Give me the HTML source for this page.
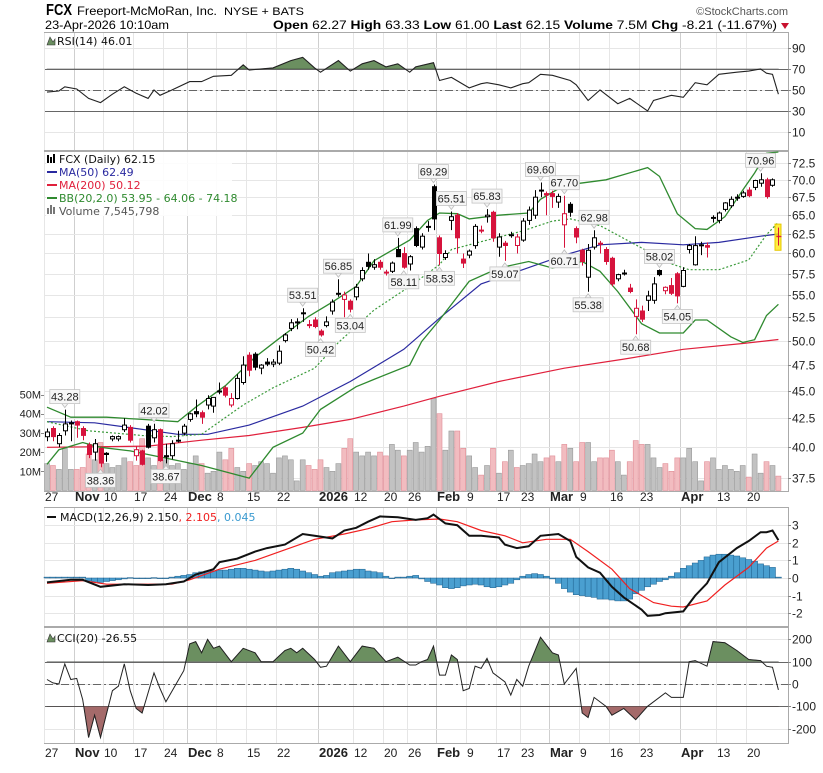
<!DOCTYPE html>
<html><head><meta charset="utf-8"><title>FCX StockCharts</title>
<style>
html,body{margin:0;padding:0;background:#fff;}
svg{display:block;font-family:"Liberation Sans",Arial,sans-serif;}
</style></head>
<body>
<svg id="chart" width="823" height="773" viewBox="0 0 823 773" xmlns="http://www.w3.org/2000/svg">
  <text x="46" y="15" font-size="16" font-weight="bold" textLength="26" lengthAdjust="spacingAndGlyphs">FCX</text>
  <text x="77" y="15" font-size="12" textLength="140" lengthAdjust="spacingAndGlyphs">Freeport-McMoRan, Inc.</text>
  <text x="224" y="15" font-size="11" textLength="80" lengthAdjust="spacingAndGlyphs">NYSE + BATS</text>
  <text x="788" y="15" font-size="11" fill="#555" text-anchor="end">©StockCharts.com</text>
  <text x="45" y="29" font-size="12" textLength="124" lengthAdjust="spacingAndGlyphs">23-Apr-2026 10:10am</text>
  <text x="273" y="29" font-size="12" textLength="504" lengthAdjust="spacingAndGlyphs"><tspan font-weight="bold">Open</tspan> 62.27 <tspan font-weight="bold">High</tspan> 63.33 <tspan font-weight="bold">Low</tspan> 61.00 <tspan font-weight="bold">Last</tspan> 62.15 <tspan font-weight="bold">Volume</tspan> 7.5M <tspan font-weight="bold">Chg</tspan> -8.21 (-11.67%)</text>
  <polygon points="781,23 789,23 785,29" fill="#c8102e"/>
  <g id="layer"></g>
</svg>
<script>
// ---------- DATA ----------
const opens = [40.9,41.6,40.3,41.4,42.1,42.2,41.6,40.2,39.6,39.9,39.5,40.7,40.7,41.5,41.7,39.3,39.7,41.8,40.8,41.5,39.3,39.3,40.6,41.2,
42.4,43.1,43.0,43.7,43.6,45.0,45.3,43.7,44.3,45.8,48.5,48.6,47.2,47.8,47.6,47.7,50.0,51.3,52.0,53.0,51.7,52.2,
51.0,51.6,53.2,55.2,54.5,54.3,54.8,56.9,58.9,58.3,58.9,57.7,57.8,60.5,60.0,58.7,63.2,
60.8,63.5,69.0,62.0,59.5,64.3,65.0,59.3,59.8,61.0,63.0,64.8,65.4,60.8,61.3,62.4,61.0,61.7,64.3,65.0,68.5,68.0,68.0,66.8,63.7,66.5,63.2,60.4,57.1,60.8,61.3,60.5,59.4,56.9,57.6,55.8,52.6,53.2,54.4,54.4,57.9,55.5,56.1,57.5,56.0,60.5,58.6,61.1,61.0,64.7,64.3,65.8,66.3,67.5,67.6,68.5,68.9,69.5,70.0,69.2,62.27];
const highs = [41.6,41.8,41.2,43.28,42.3,42.3,41.8,40.4,40.7,40.0,39.6,41.0,41.0,42.5,41.9,40.1,39.8,42.0,42.02,41.6,40.3,40.6,41.4,42.0,
43.0,44.2,43.2,44.6,44.4,45.8,45.5,44.8,46.6,48.4,48.8,48.8,47.6,48.2,48.1,49.5,50.8,52.3,52.4,53.51,52.2,52.5,
51.2,52.6,54.5,56.85,55.4,54.5,56.3,58.3,60.0,59.3,59.2,58.0,59.0,61.99,60.8,59.8,63.5,
62.6,64.2,69.29,62.3,60.4,65.51,65.3,60.0,60.5,63.8,63.6,65.83,65.6,62.6,61.6,62.8,62.5,64.6,66.2,68.5,69.60,68.3,68.4,68.0,67.70,66.8,63.5,60.6,61.2,62.98,61.6,60.8,59.6,57.5,58.0,56.3,54.5,53.8,55.5,57.1,58.02,56.0,57.0,57.7,58.3,61.2,62.2,61.5,61.4,65.0,65.5,66.8,67.6,67.9,68.4,68.9,70.0,70.96,70.3,70.2,63.33];
const lows = [40.5,40.5,40.0,41.0,40.5,40.8,40.6,39.1,38.9,38.36,38.8,40.5,40.5,41.3,40.4,38.9,38.5,39.9,40.4,38.8,38.67,39.0,40.4,41.0,
42.2,42.6,42.0,43.3,43.0,44.7,44.4,43.5,44.2,45.6,46.4,47.0,46.6,47.4,47.3,47.5,49.8,51.0,51.2,52.0,51.3,51.3,
50.42,51.4,52.8,54.8,52.5,53.04,54.4,56.6,58.0,58.0,58.0,57.3,57.6,60.2,58.11,57.9,60.8,
60.5,62.8,63.0,58.53,59.2,63.0,60.0,58.2,59.4,60.6,62.6,64.0,61.5,59.6,59.07,62.0,60.0,61.5,63.7,64.5,67.5,65.0,66.0,66.0,60.71,64.8,61.3,58.5,55.38,60.5,60.0,58.6,56.0,56.6,57.3,55.2,50.68,52.0,53.2,54.0,57.2,55.1,55.0,54.05,55.9,60.0,58.5,59.8,59.5,64.0,63.9,65.5,66.0,67.0,67.4,67.5,68.5,69.0,67.3,69.0,61.00];
const closes = [41.3,40.9,41.0,42.0,42.0,41.9,41.0,39.4,40.3,38.7,39.4,40.9,40.9,41.9,40.6,39.8,38.6,40.0,41.5,38.9,39.2,40.3,40.6,41.8,
42.9,42.9,42.6,44.3,44.4,45.0,44.6,44.3,46.2,47.5,47.0,47.3,47.5,47.6,47.8,48.9,50.6,51.9,52.0,53.0,51.7,51.5,
50.6,52.0,54.2,55.2,55.0,53.4,55.9,57.9,58.4,58.6,58.3,57.7,58.8,59.6,58.3,59.6,61.0,
62.2,63.5,64.5,60.0,60.0,64.8,62.0,58.8,60.3,63.5,63.0,65.0,62.0,62.1,61.0,62.4,62.1,64.2,65.7,67.5,68.4,67.8,67.6,67.6,65.2,65.4,62.1,59.0,60.4,62.0,61.2,59.0,56.3,57.4,57.6,55.4,53.5,52.3,54.9,56.3,57.4,55.9,55.2,54.9,57.9,61.0,61.0,61.0,60.8,64.7,65.3,66.7,67.2,67.5,68.1,67.7,69.9,70.0,67.6,70.0,62.15];
const volumesM = [14,13,11,22,11,11,12,19,16,25,14,12,13,17,15,13,27,17,13,23,16,13,14,11,
14,18,14,9,10,20,16,22,12,10,14,13,15,14,9,17,18,16,5,16,13,11,
16,12,10,14,22,27,20,18,20,18,20,18,24,21,18,21,25,
20,23,48,40,21,31,31,22,18,12,8,13,22,9,15,21,12,13,14,19,15,17,18,15,24,22,15,25,25,15,17,17,21,15,8,15,26,24,24,17,12,14,10,17,17,22,15,5,15,17,11,13,11,10,13,7,19,9,15,13,7.5];

const ma50Idx = [0,8,22,27,34,43,51,60,66,73,80,87,93,100,107,113,120,123];
const ma50Val = [42.2,42.1,41.1,41.1,41.9,43.6,45.9,49.1,52.4,56.3,58.0,59.8,61.1,61.4,61.1,61.4,62.2,62.49];
const ma200Idx = [0,17,26,34,43,51,60,66,76,87,97,107,117,123];
const ma200Val = [40.0,40.1,40.6,41.0,41.7,42.4,43.6,44.5,45.9,47.2,48.1,49.1,49.7,50.12];
const bbUpIdx = [0,4,10,16,22,25,30,35,39,44,48,52,55,61,64,66,69,71,76,81,83,87,94,101,103,106,109,111,114,117,119,121,123];
const bbUpVal = [43.5,42.6,42.6,42.4,42.2,43.5,45.5,48.3,50.2,52.6,54.2,56.0,59.1,61.7,64.3,65.3,65.2,64.5,65.0,65.3,67.2,69.2,70.0,71.8,70.5,65.2,63.2,63.1,64.8,68.5,71.0,74.0,74.18];
const bbMidIdx = [0,7,16,21,26,33,38,45,49,55,61,66,68,74,80,85,88,93,99,105,108,113,118,121,123];
const bbMidVal = [42.2,41.4,41.0,40.9,41.1,43.7,45.3,47.2,49.8,53.3,56.0,58.6,60.5,61.7,62.9,64.2,64.5,63.6,61.1,58.7,58.0,58.0,59.2,62.4,64.06];
const bbLoIdx = [0,2,6,9,14,21,26,34,38,43,46,52,55,61,63,66,71,76,81,85,90,93,96,100,103,107,109,111,115,117,119,121,123];
const bbLoVal = [38.6,39.8,40.4,40.0,39.7,39.0,38.5,37.5,40.0,41.2,43.3,45.4,46.1,47.5,49.9,52.2,56.6,58.2,59.0,58.2,59.0,57.8,55.4,51.8,50.8,50.8,52.2,52.2,50.4,49.8,50.1,52.7,53.95];

const rsiIdx = [0,2,3,5,7,9,11,13,15,17,18,19,21,24,26,28,31,33,34,38,41,43,45,46,49,51,53,55,57,59,61,62,65,66,68,71,73,74,76,78,80,81,83,85,88,89,91,93,96,98,101,102,105,107,109,111,113,116,118,120,121,122,123];
const rsiVal = [48,49,53,51,42,38,46,53,47,42,50,45,50,58,58,63,64,74,69,71,78,81,71,67,78,68,75,78,72,75,67,72,76,59,62,52,56,57,55,52,56,57,65,64,59,55,40,50,37,42,30,40,45,43,57,55,65,67,68,70,66,65,46.01];

const macdIdx = [0,4,6,9,13,17,20,23,25,28,29,32,35,37,40,43,45,48,50,52,54,56,59,62,64,65,67,69,71,73,76,77,79,81,83,86,88,89,91,93,95,97,100,101,103,104,107,109,111,113,116,118,120,121,122,123];
const macdVal = [-0.25,-0.1,-0.1,-0.5,-0.35,-0.4,-0.35,-0.2,0.2,0.5,0.9,1.1,1.5,1.7,1.9,2.5,2.4,2.25,2.7,2.85,3.2,3.5,3.45,3.3,3.4,3.6,3.1,3.0,2.4,2.4,2.3,1.9,1.7,1.8,2.4,2.5,2.1,1.2,0.6,0.3,-0.5,-1.1,-1.8,-2.15,-2.1,-2.0,-1.9,-1.0,-0.3,0.9,1.7,2.1,2.6,2.6,2.7,2.15];
const signalIdx = [0,6,10,14,21,24,29,35,40,45,50,54,58,62,66,69,73,77,80,84,88,91,95,98,102,105,107,111,114,118,121,123];
const signalVal = [-0.3,-0.15,-0.35,-0.35,-0.35,-0.1,0.5,1.0,1.6,2.2,2.5,2.8,3.2,3.3,3.35,3.2,2.7,2.4,2.0,2.2,2.2,1.5,0.5,-0.6,-1.4,-1.6,-1.65,-1.3,-0.4,0.6,1.7,2.1];
const histVal = [0.05,0.05,0.05,0.05,0.05,0.05,0.05,
-0.15,-0.2,-0.25,-0.2,-0.15,-0.1,-0.05,
0.02,0.0,-0.03,0.0,0.02,-0.02,0.0,0.05,0.1,
0.15,0.2,0.3,0.35,0.4,0.4,0.45,0.45,
0.5,0.55,0.55,0.5,0.45,0.4,0.35,
0.4,0.45,0.5,0.55,0.5,0.4,0.3,
0.2,0.1,0.15,0.3,0.35,
0.4,0.45,0.5,0.5,0.4,0.35,0.3,
0.1,0.0,0.05,0.05,0.1,0.15,
-0.05,-0.2,-0.3,-0.4,-0.55,
-0.6,-0.55,-0.45,-0.4,-0.35,-0.4,
-0.5,-0.55,-0.5,-0.4,-0.3,-0.1,
0.1,0.2,0.25,0.2,0.1,-0.05,
-0.3,-0.6,-0.8,-0.95,-1.0,-1.05,
-1.1,-1.2,-1.2,-1.25,-1.3,-1.3,-1.2,
-0.9,-0.7,-0.5,-0.35,-0.2,-0.1,
0.1,0.3,0.55,0.7,0.85,1.0,
1.2,1.3,1.35,1.35,1.3,1.25,1.15,
1.05,0.95,0.8,0.7,0.6,0.05];

const cciIdx = [0,1,2,3,4,5,6,7,8,9,11,12,13,14,15,16,18,19,20,23,24,25,26,27,28,29,31,33,35,36,38,40,41,42,43,45,46,47,49,51,53,55,57,59,61,62,63,64,65,66,67,68,69,70,71,72,73,74,75,77,78,79,80,81,83,85,86,87,89,90,91,92,94,95,97,99,101,104,105,107,108,109,111,112,114,116,118,120,121,122,123];
const cciVal = [20,5,0,90,20,25,-70,-240,-140,-240,-30,-10,90,-30,-110,-130,50,-20,-80,60,180,190,140,200,160,170,100,160,140,100,100,150,160,140,160,110,75,80,170,100,170,160,100,120,85,85,100,110,170,40,40,130,110,-30,-20,80,70,115,50,10,-50,20,-10,80,210,140,130,0,70,-130,-150,-60,-100,-140,-110,-160,-100,-40,-60,-60,100,105,80,190,185,150,110,105,80,75,-26.55];

const priceTicks = [37.5,40.0,42.5,45.0,47.5,50.0,52.5,55.0,57.5,60.0,62.5,65.0,67.5,70.0,72.5];
const volTicks = [10,20,30,40,50];
const rsiTicks = [90,70,50,30,10];
const macdTicks = [3,2,1,0,-1,-2];
const cciTicks = [200,100,0,-100,-200];
const weekIdx = [0,5,10,15,20,24,29,34,39,46,52,57,61,66,71,76,80,85,90,95,100,107,113,118];
const weekLabels = ["27","Nov","10","17","24","Dec","8","15","22","2026","12","20","26","Feb","9","17","23","Mar","9","16","23","Apr","13","20"];
const annIdx = [3,9,18,20,43,46,49,51,59,60,65,66,68,74,77,83,87,87,92,91,99,103,106,120];
const annSide = ["h","l","h","l","h","l","h","l","h","l","h","l","h","h","l","h","h","l","h","l","l","h","l","h"];

// ---------- SCALES ----------
const N = closes.length;
const X0 = 47, X1 = 778.4, PL = 44, PR = 788;
function xs(i){ return X0 + i*(X1-X0)/(N-1); }
function yp(p){ return 163 + (Math.log(72.5)-Math.log(p))*478; }
function yv(v){ return 490.5 - v*1.92; }
function yr(v){ return 111 - (v-30)*1.05; }
function ym(v){ return 578 - v*17.6; }
function yc(v){ return 684 - v*0.223; }

const NS = "http://www.w3.org/2000/svg";
const root = document.getElementById('layer');
function mk(tag, attrs, parent){
  const e = document.createElementNS(NS, tag);
  for (const k in attrs) e.setAttribute(k, attrs[k]);
  (parent||root).appendChild(e);
  return e;
}
function pts(idx, vals, f){ return idx.map((d,k)=> xs(d).toFixed(1)+','+f(vals[k]).toFixed(1)).join(' '); }

// ---------- PANELS ----------
const panels = [
  {name:'rsi-panel', y0:32, y1:150},
  {name:'price-panel', y0:151, y1:491},
  {name:'macd-panel', y0:507, y1:626},
  {name:'cci-panel', y0:627, y1:743}
];
panels.forEach(p=>{
  const g = mk('g',{});
  
  
  const r = mk('rect',{x:PL+0.5,y:p.y0+0.5,width:PR-PL,height:p.y1-p.y0,fill:'#fff',stroke:'#aaa'}, g);
  
  
  weekIdx.forEach((d,k)=>{
    const x = Math.round(xs(d)-3)+0.5;
    const bold = isNaN(+weekLabels[k]) || weekLabels[k]==='2026';
    const l = mk('line',{x1:x,x2:x,y1:p.y0+1,y2:p.y1,stroke:bold?'#cfcfcf':'#e6e6e6','stroke-width':1}, g);
    
    
  });
});

function hTicks(ticks, f, fmt, panelName){
  ticks.forEach(t=>{
    const y = Math.round(f(t))+0.5;
    const l = mk('line',{x1:PL+1,x2:PR,y1:y,y2:y,stroke:'#e6e6e6'});
    
    
    const tk = mk('line',{x1:PR,x2:PR+3,y1:y,y2:y,stroke:'#888'});
    
    
    const tx = mk('text',{x:PR+4,y:y+4,'font-size':12,fill:'#222'});
    tx.textContent = fmt(t);
    
    
  });
}
hTicks(rsiTicks, yr, t=>String(t), 'rsi');
hTicks(priceTicks, yp, t=>t.toFixed(1), 'price');
hTicks(macdTicks, ym, t=>String(t), 'macd');
hTicks(cciTicks, yc, t=>String(t), 'cci');

function refLine(y, dash, name){
  const l = mk('line',{x1:PL+1,x2:PR,y1:Math.round(y)+0.5,y2:Math.round(y)+0.5,stroke:'#666','stroke-width':1});
  if (dash) l.setAttribute('stroke-dasharray','8,3,2,3');
  
  
}
refLine(yr(70), false, 'rsi-overbought-line');
refLine(yr(30), false, 'rsi-oversold-line');
refLine(yr(50), true, 'rsi-midline');
refLine(yc(100), false, 'cci-upper-line');
refLine(yc(-100), false, 'cci-lower-line');
refLine(yc(0), true, 'cci-zero-line');

[497, 753].forEach((y,row)=>{
  weekIdx.forEach((d,k)=>{
    const lab = weekLabels[k];
    const bold = isNaN(+lab) || lab==='2026';
    const t = mk('text',{x:Math.round(xs(d)-3)+1,y:y+4,'font-size':bold?13:12,'font-weight':bold?'bold':'normal',fill:'#222'});
    t.textContent = lab;
    
    
  });
});

volTicks.forEach(v=>{
  const y = yv(v);
  const t = mk('text',{x:41,y:y+4,'font-size':11,'text-anchor':'end',fill:'#222'});
  t.textContent = v+'M';
  
  
  const tk = mk('line',{x1:41,x2:44,y1:Math.round(y)+0.5,y2:Math.round(y)+0.5,stroke:'#888'});
  
  
});

// ---------- RSI ----------
const clipR = mk('clipPath',{id:'rsiClip'});
mk('rect',{x:PL,y:32,width:PR-PL,height:yr(70)-32}, clipR);
const rsiPts = pts(rsiIdx, rsiVal, yr);
const rsiFill = mk('polygon',{points: xs(rsiIdx[0])+','+yr(70)+' '+rsiPts+' '+xs(rsiIdx[rsiIdx.length-1])+','+yr(70), fill:'#6b8f60', stroke:'#333','stroke-width':0.6,'clip-path':'url(#rsiClip)'});


const rsiLine = mk('polyline',{points:rsiPts, fill:'none', stroke:'#222','stroke-width':1.1});



// ---------- VOLUME ----------
for (let i=0;i<N;i++){
  const prev = i>0?closes[i-1]:opens[i];
  const down = closes[i] < prev;
  const x = xs(i);
  const y = yv(volumesM[i]);
  const b = mk('rect',{x:(x-2.5).toFixed(1),y:y.toFixed(1),width:5,height:(490.5-y).toFixed(1),fill:down?'#f2bcc0':'#c2c2c2',stroke:down?'#e08d96':'#9a9a9a','stroke-width':0.6});
  
  
}

// ---------- OVERLAYS ----------
function overlay(idx, vals, color, w, name, dash){
  const l = mk('polyline',{points:pts(idx, vals, yp), fill:'none', stroke:color,'stroke-width':w});
  if (dash) l.setAttribute('stroke-dasharray', dash);
  
  
}
overlay(ma200Idx, ma200Val, '#e0203c', 1.2, 'ma200-line');
overlay(ma50Idx, ma50Val, '#2a2aa0', 1.2, 'ma50-line');
overlay(bbUpIdx, bbUpVal, '#2f8a2f', 1.3, 'bollinger-upper');
overlay(bbLoIdx, bbLoVal, '#2f8a2f', 1.3, 'bollinger-lower');
overlay(bbMidIdx, bbMidVal, '#3a9a3a', 1.2, 'bollinger-middle', '2,2');

// ---------- CANDLES ----------
for (let i=0;i<N;i++){
  const prev = i>0?closes[i-1]:opens[i];
  const col = closes[i] < prev ? '#d6133c' : '#000';
  const filled = closes[i] < opens[i];
  const x = Math.round(xs(i))+0.5;
  const g = mk('g',{});
  
  
  const wk = mk('line',{x1:x,x2:x,y1:yp(highs[i]).toFixed(1),y2:yp(lows[i]).toFixed(1),stroke:col,'stroke-width':1}, g);
  
  
  const yt = yp(Math.max(opens[i],closes[i])), yb = yp(Math.min(opens[i],closes[i]));
  const bd = mk('rect',{x:x-2,y:yt.toFixed(1),width:4,height:Math.max(1,yb-yt).toFixed(1),fill:filled?col:'#fff',stroke:col,'stroke-width':1}, g);
  
  
}
const hl = mk('rect',{x:Math.round(xs(N-1))-3,y:yp(63.8),width:6,height:yp(60.4)-yp(63.8),fill:'#ffe600','fill-opacity':0.75,stroke:'#e6c800'});


{
  const i=N-1, x=Math.round(xs(i))+0.5;
  const wk = mk('line',{x1:x,x2:x,y1:yp(highs[i]),y2:yp(lows[i]),stroke:'#d6133c'});
  
  
  const bd = mk('line',{x1:x-2,x2:x+3,y1:yp(closes[i]),y2:yp(closes[i]),stroke:'#d6133c'});
  
  
}

// ---------- PRICE ANNOTATIONS ----------
annIdx.forEach((d,k)=>{
  const side = annSide[k];
  const v = side==='h'?highs[d]:lows[d];
  const txt = v.toFixed(2);
  const x = xs(d);
  const w = 30, h = 14;
  const y0 = side==='h' ? yp(v)-6-h : yp(v)+6;
  const g = mk('g',{});
  
  
  const ptr = side==='h'
    ? (x-3)+','+(y0+h)+' '+(x+3)+','+(y0+h)+' '+x+','+(y0+h+4)
    : (x-3)+','+y0+' '+(x+3)+','+y0+' '+x+','+(y0-4);
  const pp = mk('polygon',{points:ptr, fill:'#f4f4f4', stroke:'#bbb','stroke-width':0.8}, g);
  
  
  const r = mk('rect',{x:(x-w/2).toFixed(1),y:y0.toFixed(1),width:w,height:h,fill:'#f6f6f6',stroke:'#c4c4c4','stroke-width':0.8}, g);
  
  
  const t = mk('text',{x:x.toFixed(1),y:(y0+11).toFixed(1),'font-size':11,'text-anchor':'middle',fill:'#222'}, g);
  t.textContent = txt;
  
  
});

// ---------- MACD ----------
histVal.forEach((v,i)=>{
  const x = xs(i);
  const y = Math.min(ym(v), ym(0)), h = Math.abs(ym(v)-ym(0));
  const b = mk('rect',{x:(x-3).toFixed(1),y:y.toFixed(1),width:6,height:Math.max(0.6,h).toFixed(1),fill:'#4a9fd0',stroke:'#1c5f8c','stroke-width':0.5});
  
  
});
const sig = mk('polyline',{points:pts(signalIdx, signalVal, ym), fill:'none', stroke:'#f02020','stroke-width':1.2});


const mac = mk('polyline',{points:pts(macdIdx, macdVal, ym), fill:'none', stroke:'#111','stroke-width':2});



// ---------- CCI ----------
const clipU = mk('clipPath',{id:'cciUp'});
mk('rect',{x:PL,y:627,width:PR-PL,height:yc(100)-627}, clipU);
const clipD = mk('clipPath',{id:'cciDn'});
mk('rect',{x:PL,y:yc(-100),width:PR-PL,height:743-yc(-100)}, clipD);
const cciPts = pts(cciIdx, cciVal, yc);
const xa = xs(cciIdx[0]), xb = xs(cciIdx[cciIdx.length-1]);
const cu = mk('polygon',{points:xa+','+yc(100)+' '+cciPts+' '+xb+','+yc(100), fill:'#6b8f60', stroke:'#333','stroke-width':0.6,'clip-path':'url(#cciUp)'});


const cd = mk('polygon',{points:xa+','+yc(-100)+' '+cciPts+' '+xb+','+yc(-100), fill:'#a46a6a', stroke:'#333','stroke-width':0.6,'clip-path':'url(#cciDn)'});


const cl = mk('polyline',{points:cciPts, fill:'none', stroke:'#222','stroke-width':1});



// ---------- LEGENDS ----------
function legendText(x, y, str, color, name){
  const t = mk('text',{x:x,y:y,'font-size':11,fill:color,'font-family':'"DejaVu Sans",sans-serif'});
  t.textContent = str;
  
  
  return t;
}
const lgBg = mk('rect',{x:46,y:152,width:186,height:64,fill:'#fff','fill-opacity':0.85});


const ic1 = mk('path',{d:'M48,155v8M51,157v6M54,154v9',stroke:'#000','stroke-width':2});


legendText(59, 163, 'FCX (Daily) 62.15', '#111', 'price-legend-title');
[['#2a2aa0','MA(50) 62.49','ma50-legend',176],['#e0203c','MA(200) 50.12','ma200-legend',189],['#2f8a2f','BB(20,2.0) 53.95 - 64.06 - 74.18','bollinger-legend',202]].forEach(r=>{
  const l = mk('line',{x1:47,x2:57,y1:r[3]-4,y2:r[3]-4,stroke:r[0],'stroke-width':2});
  
  
  legendText(59, r[3], r[1], r[0], r[2]);
});
const ic2 = mk('path',{d:'M48,214v-6M51,214v-9M54,214v-7',stroke:'#777','stroke-width':2});


legendText(59, 215, 'Volume 7,545,798', '#555', 'volume-legend');

const ic3 = mk('path',{d:'M47,45l3,-8l3,5l2,-3v6z',fill:'#6b8f60',stroke:'#333','stroke-width':0.6});


legendText(57, 45, 'RSI(14) 46.01', '#111', 'rsi-legend');

const mL = mk('line',{x1:47,x2:56,y1:517,y2:517,stroke:'#111','stroke-width':2});


const mt = mk('text',{x:60,y:521,'font-size':11,'font-family':'"DejaVu Sans",sans-serif',fill:'#111'});


const s1 = mk('tspan',{}, mt); s1.textContent = 'MACD(12,26,9) 2.150';


const s2 = mk('tspan',{fill:'#f02020'}, mt); s2.textContent = ', 2.105';


const s3 = mk('tspan',{fill:'#3a9ad0'}, mt); s3.textContent = ', 0.045';



const ic4 = mk('path',{d:'M47,642l3,-8l3,5l2,-3v6z',fill:'#6b8f60',stroke:'#333','stroke-width':0.6});


legendText(57, 642, 'CCI(20) -26.55', '#111', 'cci-legend');
</script>
</body></html>
